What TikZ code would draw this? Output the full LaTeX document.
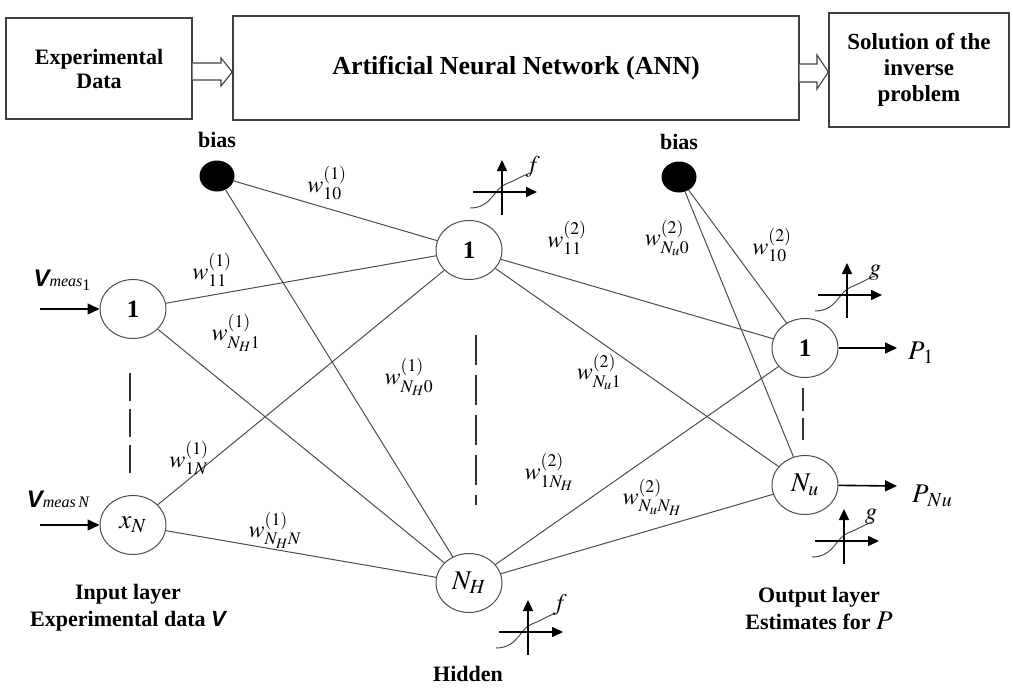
\documentclass[tikz,border=0pt]{standalone}
\usepackage{mathptmx}
\usepackage{fontspec}
\setmainfont{Liberation Serif}
\newfontfamily\vsans{Liberation Sans}
\usetikzlibrary{shapes.geometric,arrows.meta,calc}
\begin{document}
\begin{tikzpicture}[x=1pt,y=-1pt,
  box/.style={draw=black!75, line width=1.3pt, fill=white, inner sep=2pt, align=center, font=\fontsize{22}{24}\selectfont\bfseries},
  hollow/.style={draw=black!75, line width=1.1pt, fill=white},
  neuron/.style={ellipse, draw=black!70, line width=1pt, minimum width=66pt, minimum height=59pt, inner sep=0pt, font=\fontsize{27}{28}\selectfont},
  biasnode/.style={ellipse, fill=black, minimum width=35pt, minimum height=31pt, inner sep=0pt},
  conn/.style={draw=black!70, line width=1pt},
  lbl/.style={font=\fontsize{24}{26}\selectfont, inner sep=0pt},
  txt/.style={font=\fontsize{22}{27}\selectfont\bfseries, align=center, inner sep=0pt},
  ioarrow/.style={line width=1.6pt, -{Triangle[length=12pt,width=11pt]}},
  dashline/.style={draw=black!80, line width=1.3pt},
  axis/.style={line width=1.5pt, -{Triangle[length=11pt,width=10pt]}},
  sig/.style={draw=black!70, line width=1pt},
  act/.pic={
    \draw[sig] (-32,16) .. controls (-10,16) and (-8,-4) .. (4,-8) .. controls (14,-12) and (20,-16) .. (28,-19);
    \draw[axis] (-29,0) -- (35,0);
    \draw[axis] (0,23) -- (0,-32);
  }]
\useasboundingbox (0,0) rectangle (1013,688);

% top row
\node[box, minimum width=186pt, minimum height=101pt] (box1) at (99,68.5) {Experimental\\Data};
\node[box, minimum width=566pt, minimum height=104pt, font=\fontsize{26}{28}\selectfont\bfseries] (box2) at (516,68) {Artificial Neural Network (ANN)};
\node[box, minimum width=180pt, minimum height=114pt, font=\fontsize{23}{26}\selectfont\bfseries] (box3) at (919,70) {Solution of the\\inverse\\problem};
\draw[hollow] (box1.east |- 0,63) -- (221,63) -- (221,58) -- (box2.west |- 0,72) -- (221,86) -- (221,80) -- (box1.east |- 0,80);
\draw[hollow] (box2.east |- 0,64) -- (817,64) -- (817,55) -- (box3.west |- 0,72) -- (817,89) -- (817,82) -- (box2.east |- 0,82);

% bias nodes
\node[biasnode] (b1) at (217,176) {};
\node[biasnode] (b2) at (679,177) {};
\node[txt] (bl1) at (217,140) {bias};
\node[txt] (bl2) at (679,142) {bias};

% neurons
\node[neuron, font=\fontsize{25}{26}\selectfont\bfseries] (i1) at (133,309) {1};
\node[neuron] (iN) at (133,525) {$x_N$};
\node[neuron, font=\fontsize{25}{26}\selectfont\bfseries] (h1) at (469,250) {1};
\node[neuron] (hN) at (469,583) {$N_H$};
\node[neuron, font=\fontsize{25}{26}\selectfont\bfseries] (o1) at (805,348) {1};
\node[neuron] (oN) at (805,485) {$N_u$};

% connections
\foreach \s in {b1,i1,iN} {
  \draw[conn] (\s) -- (h1);
  \draw[conn] (\s) -- (hN);
}
\foreach \s in {h1,hN,b2} {
  \draw[conn] (\s) -- (o1);
  \draw[conn] (\s) -- (oN);
}

% dashed ellipses
\draw[dashline, dash pattern=on 28pt off 8pt] (130,373) -- (130,475);
\draw[dashline, dash pattern=on 30pt off 10pt] (476,335) -- (476,505);
\draw[dashline, dash pattern=on 23pt off 7pt] (803,388) -- (803,440);

% input / output arrows
\coordinate (in1) at (40,309);
\coordinate (inN) at (40,525);
\coordinate (out1) at (897,348);
\coordinate (outN) at (897,486);
\draw[ioarrow] (in1) -- (i1);
\draw[ioarrow] (inN) -- (iN);
\draw[ioarrow] (o1) -- (out1);
\draw[ioarrow] (oN) -- (outN);
\node[lbl] (v1) at (62,280) {{\vsans\bfseries\itshape V}{\fontsize{16}{17}\selectfont\itshape meas}\raisebox{-4pt}{\fontsize{16}{17}\selectfont 1}};
\node[lbl] (vN) at (58,499) {{\vsans\bfseries\itshape V}{\fontsize{16}{17}\selectfont\itshape meas\,N}};
\node[lbl, font=\fontsize{27}{28}\selectfont, anchor=west] (p1) at (908,353) {$P_{\kern2pt 1}$};
\node[lbl, font=\fontsize{27}{28}\selectfont, anchor=west] (pN) at (912,496) {$P_{\kern2pt Nu}$};

% weights
\node[lbl] (w1) at (327,183) {$w^{(1)}_{10}$};
\node[lbl] (w2) at (212,270) {$w^{(1)}_{11}$};
\node[lbl] (w3) at (236,333) {$w^{(1)}_{N_H1}$};
\node[lbl] (w4) at (409,377) {$w^{(1)}_{N_H0}$};
\node[lbl] (w5) at (189,458) {$w^{(1)}_{1N}$};
\node[lbl] (w6) at (275,530) {$w^{(1)}_{N_HN}$};
\node[lbl] (w7) at (567,238) {$w^{(2)}_{11}$};
\node[lbl] (w8) at (667,238) {$w^{(2)}_{N_u0}$};
\node[lbl] (w9) at (772,245) {$w^{(2)}_{10}$};
\node[lbl] (w10) at (599,372) {$w^{(2)}_{N_u1}$};
\node[lbl] (w11) at (549,472) {$w^{(2)}_{1N_H}$};
\node[lbl] (w12) at (652,497) {$w^{(2)}_{N_uN_H}$};

% activation icons
\pic at (502,192) {act};
\node[lbl] (f1) at (533,167) {$f$};
\pic at (528,632) {act};
\node[lbl] (f2) at (560,605) {$f$};
\pic at (847,295) {act};
\node[lbl] (g1) at (875,273) {$g$};
\pic at (844,541) {act};
\node[lbl] (g2) at (871,517) {$g$};

% layer captions
\node[txt] (cap1) at (128,608) {Input layer\\Experimental data {\vsans\itshape V}};
\node[txt] (cap2) at (468,674) {Hidden};
\node[txt] (cap3) at (819,608) {Output layer\\Estimates for {\mdseries\fontsize{27}{27}\selectfont$P$}};
\end{tikzpicture}
\end{document}
